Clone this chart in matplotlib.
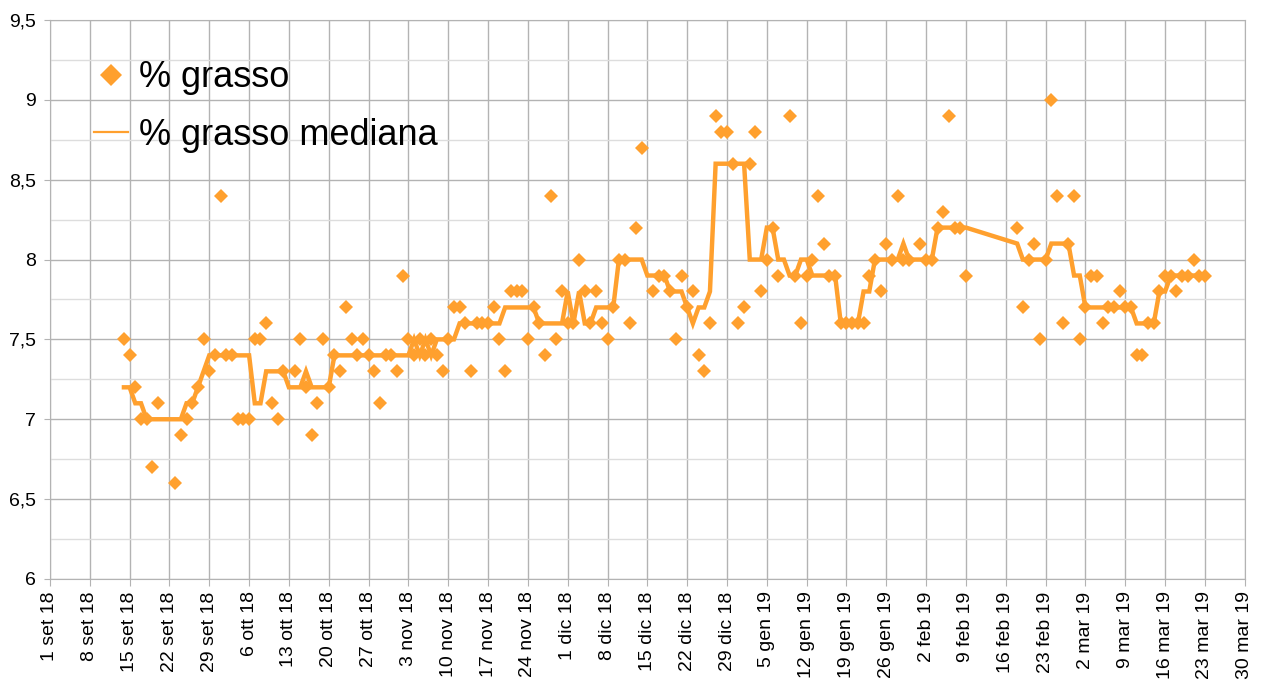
import matplotlib
matplotlib.use('Agg')
import matplotlib.pyplot as plt
import matplotlib.dates as mdates
from matplotlib.ticker import MultipleLocator, FuncFormatter
from matplotlib.lines import Line2D
import numpy as np
import pandas as pd

plt.rcParams['font.family'] = ['Liberation Sans', 'DejaVu Sans']

# giorni dal 1 set 2018
inizio = pd.Timestamp('2018-09-01')
giorni = [13, 14, 15, 16, 17, 18, 19, 22, 23, 24, 25, 26, 27, 28, 29, 30, 31, 32, 33, 34,
          35, 36, 37, 38, 39, 40, 41, 42, 43, 44, 45, 46, 47, 48, 49, 50, 51, 52, 53, 54,
          55, 56, 57, 58, 59, 60, 61, 62, 63, 64, 65, 66, 67, 68, 69, 70, 71, 72, 73, 74,
          75, 76, 77, 78, 79, 80, 81, 82, 83, 84, 85, 86, 87, 88, 89, 90, 91, 92, 93, 94,
          95, 96, 97, 98, 99, 100, 101, 102, 103, 104, 105, 106, 107, 108, 109, 110, 111, 112, 113, 114,
          115, 116, 117, 118, 119, 120, 121, 122, 123, 124, 125, 126, 127, 128, 129, 130, 131, 132, 133, 134,
          135, 136, 137, 138, 139, 140, 141, 142, 143, 144, 145, 146, 147, 148, 149, 150, 151, 153, 154, 155,
          156, 157, 158, 159, 160, 161, 170, 171, 172, 173, 174, 175, 176, 177, 178, 179, 180, 181, 182, 183,
          184, 185, 186, 187, 188, 189, 190, 191, 192, 193, 194, 195, 196, 197, 198, 199, 200, 201, 202, 203]

nan = np.nan
grasso = [7.5, 7.4, 7.2, 7.0, 7.0, 6.7, 7.1, 6.6, 6.9, 7.0, 7.1, 7.2, 7.5, 7.3, 7.4, 8.4, 7.4, 7.4, 7.0, 7.0,
          7.0, 7.5, 7.5, 7.6, 7.1, 7.0, 7.3, nan, 7.3, 7.5, 7.2, 6.9, 7.1, 7.5, 7.2, 7.4, 7.3, 7.7, 7.5, 7.4,
          7.5, 7.4, 7.3, 7.1, 7.4, 7.4, 7.3, 7.9, 7.5, 7.4, 7.5, 7.4, 7.5, 7.4, 7.3, 7.5, 7.7, 7.7, 7.6, 7.3,
          7.6, 7.6, 7.6, 7.7, 7.5, 7.3, 7.8, 7.8, 7.8, 7.5, 7.7, 7.6, 7.4, 8.4, 7.5, 7.8, 7.6, 7.6, 8.0, 7.8,
          7.6, 7.8, 7.6, 7.5, 7.7, 8.0, 8.0, 7.6, 8.2, 8.7, nan, 7.8, 7.9, 7.9, 7.8, 7.5, 7.9, 7.7, 7.8, 7.4,
          7.3, 7.6, 8.9, 8.8, 8.8, 8.6, 7.6, 7.7, 8.6, 8.8, 7.8, 8.0, 8.2, 7.9, nan, 8.9, 7.9, 7.6, 7.9, 8.0,
          8.4, 8.1, 7.9, 7.9, 7.6, 7.6, 7.6, 7.6, 7.6, 7.9, 8.0, 7.8, 8.1, 8.0, 8.4, 8.0, 8.0, 8.1, 8.0, 8.0,
          8.2, 8.3, 8.9, 8.2, 8.2, 7.9, 8.2, 7.7, 8.0, 8.1, 7.5, 8.0, 9.0, 8.4, 7.6, 8.1, 8.4, 7.5, 7.7, 7.9,
          7.9, 7.6, 7.7, 7.7, 7.8, 7.7, 7.7, 7.4, 7.4, 7.6, 7.6, 7.8, 7.9, 7.9, 7.8, 7.9, 7.9, 8.0, 7.9, 7.9]

mediana = [7.2, 7.2, 7.1, 7.1, 7.0, 7.0, 7.0, 7.0, 7.0, 7.1, 7.1, 7.2, 7.3, 7.4, 7.4, 7.4, 7.4, 7.4, 7.4, 7.4,
           7.4, 7.1, 7.1, 7.3, 7.3, 7.3, 7.3, 7.2, 7.2, 7.2, 7.3, 7.2, 7.2, 7.2, 7.2, 7.4, 7.4, 7.4, 7.4, 7.4,
           7.4, 7.4, 7.4, 7.4, 7.4, 7.4, 7.4, 7.4, 7.4, 7.5, 7.4, 7.5, 7.4, 7.5, 7.5, 7.5, 7.5, 7.6, 7.6, 7.6,
           7.6, 7.6, 7.6, 7.6, 7.6, 7.7, 7.7, 7.7, 7.7, 7.7, 7.7, 7.6, 7.6, 7.6, 7.6, 7.6, 7.8, 7.6, 7.8, 7.6,
           7.6, 7.7, 7.7, 7.7, 7.7, 8.0, 8.0, 8.0, 8.0, 8.0, 7.9, 7.9, 7.9, 7.9, 7.8, 7.8, 7.8, 7.7, 7.6, 7.7,
           7.7, 7.8, 8.6, 8.6, 8.6, 8.6, 8.6, 8.6, 8.0, 8.0, 8.0, 8.2, 8.2, 8.0, 8.0, 7.9, 7.9, 8.0, 8.0, 7.9,
           7.9, 7.9, 7.9, 7.9, 7.6, 7.6, 7.6, 7.6, 7.8, 7.8, 8.0, 8.0, 8.0, 8.0, 8.0, 8.1, 8.0, 8.0, 8.0, 8.0,
           8.2, 8.2, 8.2, 8.2, 8.2, 8.2, 8.1, 8.0, 8.0, 8.0, 8.0, 8.0, 8.1, 8.1, 8.1, 8.1, 7.9, 7.9, 7.7, 7.7,
           7.7, 7.7, 7.7, 7.7, 7.7, 7.7, 7.7, 7.6, 7.6, 7.6, 7.6, 7.8, 7.8, 7.9, 7.9, 7.9, 7.9, 7.9, 7.9, 7.9]

mesi = {9: 'set', 10: 'ott', 11: 'nov', 12: 'dic', 1: 'gen', 2: 'feb', 3: 'mar'}

ARANCIO = '#ffa02e'
GRIGIO = '#b3b3b3'

date = inizio + pd.to_timedelta(giorni, unit='D')

fig, ax = plt.subplots(figsize=(12.65, 6.89), dpi=100)
fig.subplots_adjust(left=0.0395, right=0.984, bottom=0.1597, top=0.971)

ax.plot(date, mediana, color=ARANCIO, lw=3.2, solid_joinstyle='miter', zorder=3)
ax.plot(date, grasso, ls='none', marker='D', ms=6.8, mew=0, color=ARANCIO, zorder=4)

ax.set_xlim(inizio, pd.Timestamp('2019-03-30'))
ax.set_ylim(6, 9.5)

ax.xaxis.set_major_locator(mdates.WeekdayLocator(byweekday=mdates.SA))
ax.xaxis.set_major_formatter(FuncFormatter(
    lambda v, pos: (lambda d: f"{d.day} {mesi[d.month]} {d.year % 100}")(mdates.num2date(v))))
ax.yaxis.set_major_locator(MultipleLocator(0.5))
ax.yaxis.set_minor_locator(MultipleLocator(0.25))
ax.yaxis.set_major_formatter(FuncFormatter(lambda v, pos: f"{v:g}".replace('.', ',')))

ax.grid(True, which='major', color=GRIGIO, lw=1)
ax.grid(True, which='minor', axis='y', color='#dddddd', lw=1)
ax.set_axisbelow(True)
for s in ax.spines.values():
    s.set_color(GRIGIO)

ax.tick_params(axis='x', which='major', length=5, color=GRIGIO, labelsize=14, pad=4, labelrotation=90)
ax.tick_params(axis='y', which='major', length=4, color=GRIGIO, labelsize=14, pad=6)
ax.tick_params(axis='y', which='minor', length=0)

maniglie = [Line2D([], [], ls='none', marker='D', ms=11, mew=0, color=ARANCIO),
            Line2D([], [], color=ARANCIO, lw=1.6)]
ax.legend(maniglie, ['% grasso', '% grasso mediana'], loc='upper left',
          bbox_to_anchor=(0.037, 0.928), frameon=False, fontsize=26,
          handlelength=0.95, handletextpad=0.3, labelspacing=0.62,
          borderpad=0, borderaxespad=0)

fig.savefig('out.png', dpi=100)
